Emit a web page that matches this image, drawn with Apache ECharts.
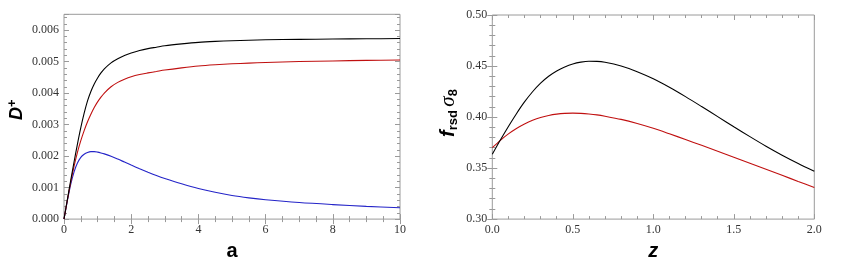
<!DOCTYPE html>
<html><head><meta charset="utf-8">
<script src="https://cdn.jsdelivr.net/npm/echarts@6/dist/echarts.min.js"></script>
<style>html,body{margin:0;padding:0;background:#fff}#c{width:845px;height:266px}</style>
</head><body><div id="c"></div>
<script>
// Left panel: D+ versus a
const aValues = [0, 0.1, 0.2, 0.3, 0.4, 0.5, 0.6, 0.7, 0.8, 0.9, 1.0, 1.1, 1.2, 1.4, 1.6, 1.8, 2.0, 2.25, 2.5, 2.75, 3.0, 3.5, 4.0, 4.5, 5, 5.5, 6, 7, 8, 9, 10];
const dBlack = [0, 0.00062, 0.00123, 0.00182, 0.00238, 0.0029, 0.00336, 0.00375, 0.00405, 0.00429, 0.00448, 0.00464, 0.00477, 0.00496, 0.00509, 0.00519, 0.00527, 0.00535, 0.00541, 0.005455, 0.0055, 0.00556, 0.00561, 0.00564, 0.00566, 0.005675, 0.00569, 0.005705, 0.005715, 0.005723, 0.00573];
const dRed = [0, 0.0006, 0.00117, 0.00168, 0.00212, 0.00249, 0.00281, 0.00309, 0.00333, 0.00354, 0.00372, 0.00387, 0.004, 0.0042, 0.00434, 0.00444, 0.00452, 0.00459, 0.00464, 0.004685, 0.00473, 0.0048, 0.00486, 0.0049, 0.00493, 0.00495, 0.00497, 0.005, 0.00502, 0.005037, 0.00505];
const dBlue = [0, 0.00058, 0.0011, 0.0015, 0.00178, 0.00196, 0.00206, 0.002115, 0.00214, 0.00214, 0.002125, 0.0021, 0.00207, 0.001995, 0.001905, 0.00181, 0.001715, 0.0016, 0.00149, 0.001385, 0.00129, 0.00112, 0.00097, 0.00085, 0.00075, 0.000675, 0.000615, 0.000525, 0.00046, 0.000405, 0.00036];
// Right panel: f_rsd sigma_8 versus z
const zValues = [0, 0.05, 0.1, 0.15, 0.2, 0.25, 0.3, 0.35, 0.4, 0.45, 0.5, 0.55, 0.6, 0.65, 0.7, 0.8, 0.9, 1.0, 1.1, 1.2, 1.3, 1.4, 1.5, 1.6, 1.7, 1.8, 1.9, 2.0];
const fsBlack = [0.3636, 0.3775, 0.3908, 0.4033, 0.4148, 0.4248, 0.4332, 0.4400, 0.4452, 0.4491, 0.4520, 0.4538, 0.4547, 0.4546, 0.4537, 0.4500, 0.4445, 0.4375, 0.4292, 0.4200, 0.4103, 0.4004, 0.3905, 0.3808, 0.3714, 0.3626, 0.3545, 0.3469];
const fsRed = [0.370, 0.3772, 0.3835, 0.3888, 0.3932, 0.3968, 0.3996, 0.4016, 0.4029, 0.4036, 0.4038, 0.4036, 0.4030, 0.4021, 0.4008, 0.3977, 0.3937, 0.3890, 0.3836, 0.3780, 0.3723, 0.3665, 0.3607, 0.3548, 0.3489, 0.3429, 0.3369, 0.3310];
// Tick labels
const leftXTicks = ['0', '2', '4', '6', '8', '10'];
const leftYTicks = ['0.000', '0.001', '0.002', '0.003', '0.004', '0.005', '0.006'];
const rightXTicks = ['0.0', '0.5', '1.0', '1.5', '2.0'];
const rightYTicks = ['0.30', '0.35', '0.40', '0.45', '0.50'];

const FRAME = '#9a9a9a';
const LABEL = '#333';
const RED = '#c01010';
const BLUE = '#2424c8';
const labelStyle = {fontFamily: 'Liberation Serif', fontSize: 12, color: LABEL};

function pick(list, step, min) {
  return function (v) {
    const k = Math.round((v - min) / step);
    if (Math.abs((v - min) / step - k) > 1e-6) return '';
    return list[k] !== undefined ? list[k] : '';
  };
}
function frameAxis(base, opts) {
  return Object.assign({
    type: 'value',
    axisLine: {show: false},
    splitLine: {show: false},
    axisTick: {show: true, inside: true, length: 5, lineStyle: {color: FRAME, width: 1}},
    minorTick: {show: false},
    axisLabel: {show: false},
  }, base, opts);
}
const minor = (n) => ({show: true, splitNumber: n, length: 3, lineStyle: {color: FRAME}});

const xAxes = [
  frameAxis({gridIndex: 0, position: 'bottom', min: 0, max: 10, interval: 2}, {
    minorTick: minor(4),
    axisLabel: Object.assign({show: true, margin: 5, formatter: pick(leftXTicks, 2, 0)}, labelStyle),
    name: 'a', nameLocation: 'middle', nameGap: 18,
    nameTextStyle: {fontFamily: 'Liberation Sans', fontWeight: 'bold', fontSize: 20, color: '#000'}
  }),
  frameAxis({gridIndex: 0, position: 'top', min: 0, max: 10, interval: 2}, {minorTick: minor(4)}),
  frameAxis({gridIndex: 1, position: 'bottom', min: 0, max: 2, interval: 0.5}, {
    minorTick: minor(5),
    axisLabel: Object.assign({show: true, margin: 5, formatter: pick(rightXTicks, 0.5, 0)}, labelStyle),
    name: 'z', nameLocation: 'middle', nameGap: 18,
    nameTextStyle: {fontFamily: 'Liberation Sans', fontWeight: 'bold', fontStyle: 'italic', fontSize: 20, color: '#000'}
  }),
  frameAxis({gridIndex: 1, position: 'top', min: 0, max: 2, interval: 0.5}, {minorTick: minor(5)})
];

const yAxes = [
  frameAxis({gridIndex: 0, position: 'left', min: 0, max: 0.0065, interval: 0.001}, {
    axisLabel: Object.assign({show: true, margin: 5, formatter: pick(leftYTicks, 0.001, 0)}, labelStyle),
    name: '{d|D}{sup|+}', nameLocation: 'middle', nameGap: 36,
    nameTextStyle: {padding: [0, 0, 0, 14], rich: {
      d: {fontFamily: 'Liberation Sans', fontWeight: 'bold', fontStyle: 'italic', fontSize: 18, lineHeight: 22, color: '#000'},
      sup: {fontFamily: 'Liberation Sans', fontWeight: 'bold', fontSize: 13, lineHeight: 14, verticalAlign: 'top', color: '#000'}
    }}
  }),
  frameAxis({gridIndex: 0, position: 'left', min: 0, max: 0.0065, interval: 0.0002}, {
    axisTick: {show: true, inside: true, length: 3, lineStyle: {color: FRAME}}
  }),
  frameAxis({gridIndex: 0, position: 'right', min: 0, max: 0.0065, interval: 0.001}, {}),
  frameAxis({gridIndex: 0, position: 'right', min: 0, max: 0.0065, interval: 0.0002}, {
    axisTick: {show: true, inside: true, length: 3, lineStyle: {color: FRAME}}
  }),
  frameAxis({gridIndex: 1, position: 'left', min: 0.3, max: 0.5, interval: 0.05}, {
    minorTick: minor(5),
    axisLabel: Object.assign({show: true, margin: 5, formatter: pick(rightYTicks, 0.05, 0.3)}, labelStyle),
    name: '{f|f}{sub|rsd} {s|σ}{sub|8}', nameLocation: 'middle', nameGap: 32,
    nameTextStyle: {padding: [0, 0, 0, 8], rich: {
      f: {fontFamily: 'Liberation Sans', fontWeight: 'bold', fontStyle: 'italic', fontSize: 20, lineHeight: 24, color: '#000'},
      s: {fontFamily: 'Liberation Serif', fontStyle: 'italic', fontSize: 21, lineHeight: 24, color: '#000'},
      sub: {fontFamily: 'Liberation Sans', fontWeight: 'bold', fontSize: 13, lineHeight: 13, verticalAlign: 'bottom', color: '#000'}
    }}
  }),
  frameAxis({gridIndex: 1, position: 'right', min: 0.3, max: 0.5, interval: 0.05}, {minorTick: minor(5)})
];

function pairs(xs, ys) { return xs.map((x, i) => [x, ys[i]]); }
function line(data, color, xi, yi) {
  return {type: 'line', xAxisIndex: xi, yAxisIndex: yi, data: data, showSymbol: false, smooth: 0.3,
    lineStyle: {color: color, width: 1.1}, itemStyle: {color: color}, silent: true, animation: false};
}

const chart = echarts.init(document.getElementById('c'), null, {renderer: 'canvas'});
chart.setOption({
  animation: false,
  backgroundColor: '#fff',
  grid: [
    {left: 64, right: 445, top: 14.3, bottom: 44.3, show: true, borderColor: FRAME, borderWidth: 1, backgroundColor: 'transparent'},
    {left: 492.3, right: 30.7, top: 15, bottom: 43.3, show: true, borderColor: FRAME, borderWidth: 1, backgroundColor: 'transparent'}
  ],
  xAxis: xAxes,
  yAxis: yAxes,
  series: [
    line(pairs(aValues, dBlue), BLUE, 0, 0),
    line(pairs(aValues, dRed), RED, 0, 0),
    line(pairs(aValues, dBlack), '#000', 0, 0),
    line(pairs(zValues, fsRed), RED, 2, 4),
    line(pairs(zValues, fsBlack), '#000', 2, 4)
  ]
});
</script></body></html>
